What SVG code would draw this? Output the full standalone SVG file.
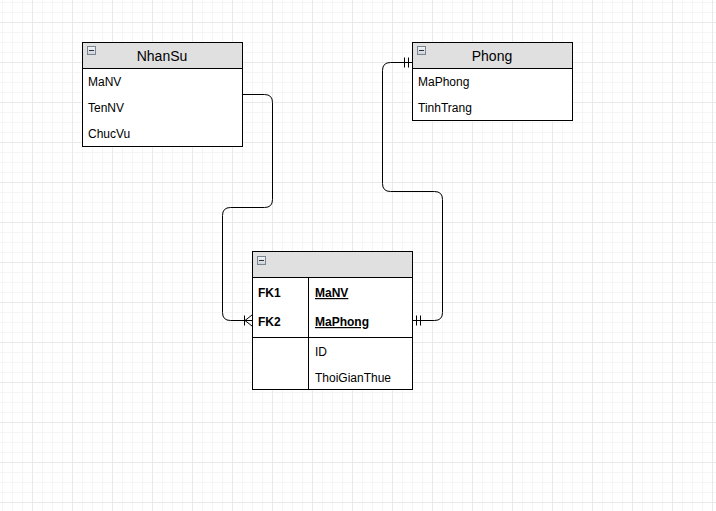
<svg xmlns="http://www.w3.org/2000/svg" width="716" height="511" viewBox="0 0 716 511">
<defs>
<pattern id="grid" x="32" y="22" width="40" height="40" patternUnits="userSpaceOnUse">
<path d="M10.5,0V40M20.5,0V40M30.5,0V40M0,10.5H40M0,20.5H40M0,30.5H40" stroke="#f5f5f5" stroke-width="1" fill="none"/>
<path d="M0.5,0V40M0,0.5H40" stroke="#eaeaea" stroke-width="1" fill="none"/>
</pattern>
<linearGradient id="ig" x1="0" y1="0" x2="0" y2="1">
<stop offset="0" stop-color="#f4f6f8"/>
<stop offset="1" stop-color="#c9d0d8"/>
</linearGradient>
<g id="icon">
<rect x="0.5" y="0.5" width="8" height="8" fill="url(#ig)" stroke="#7a8590" stroke-width="1"/>
<path d="M2,4.5H7" stroke="#333" stroke-width="1"/>
</g>
</defs>
<style>
.box{fill:#ffffff;stroke:#000000;stroke-width:1}
.hdr{fill:#e0e0e0;stroke:#000000;stroke-width:1}
.ttl{font-family:"Liberation Sans",Arial,sans-serif;font-size:14px;fill:#000;text-anchor:middle}
.fld{font-family:"Liberation Sans",Arial,sans-serif;font-size:12px;fill:#000}
.key{font-family:"Liberation Sans",Arial,sans-serif;font-size:12px;fill:#000;font-weight:bold}
.pk{text-decoration:underline}
.edge{fill:none;stroke:#000000;stroke-width:1}
</style>
<rect width="716" height="511" fill="#ffffff"/>
<rect width="716" height="511" fill="url(#grid)"/>

<g id="connectors">
<path class="edge" d="M242,94.5H264.5Q272.5,94.5 272.5,102.5V199.5Q272.5,207.5 264.5,207.5H230.5Q222.5,207.5 222.5,215.5V312.5Q222.5,320.5 230.5,320.5H252"/>
<path class="edge" d="M244.5,315.5V325.5M245,320.5L252,315M245,320.5L252,326"/>
<path class="edge" d="M412,62.5H390.5Q382.5,62.5 382.5,70.5V183.5Q382.5,191.5 390.5,191.5H434.5Q442.5,191.5 442.5,199.5V312.5Q442.5,320.5 434.5,320.5H412"/>
<path class="edge" d="M404.5,57.5V67.5M408.5,57.5V67.5"/>
<path class="edge" d="M416.5,315.5V325.5M420.5,315.5V325.5"/>
</g>

<g id="NhanSu">
<rect class="box" x="82.5" y="42.5" width="160" height="104"/>
<rect class="hdr" x="82.5" y="42.5" width="160" height="26"/>
<use href="#icon" x="87" y="46"/>
<text class="ttl" x="162" y="61">NhanSu</text>
<text class="fld" x="88" y="86">MaNV</text>
<text class="fld" x="88" y="112">TenNV</text>
<text class="fld" x="88" y="138">ChucVu</text>
</g>

<g id="Phong">
<rect class="box" x="412.5" y="42.5" width="160" height="78"/>
<rect class="hdr" x="412.5" y="42.5" width="160" height="26"/>
<use href="#icon" x="417" y="46"/>
<text class="ttl" x="492" y="61">Phong</text>
<text class="fld" x="418" y="86">MaPhong</text>
<text class="fld" x="418" y="112">TinhTrang</text>
</g>

<g id="Link">
<rect class="box" x="252.5" y="251.5" width="160" height="138"/>
<rect class="hdr" x="252.5" y="251.5" width="160" height="26"/>
<use href="#icon" x="257" y="256"/>
<path class="edge" d="M308.5,277.5V389.5M252.5,337.5H412.5"/>
<text class="key" x="258" y="297">FK1</text>
<text class="key" x="258" y="326">FK2</text>
<text class="key pk" x="315" y="297">MaNV</text>
<text class="key pk" x="315" y="326">MaPhong</text>
<text class="fld" x="315" y="356">ID</text>
<text class="fld" x="315" y="382">ThoiGianThue</text>
</g>
</svg>
